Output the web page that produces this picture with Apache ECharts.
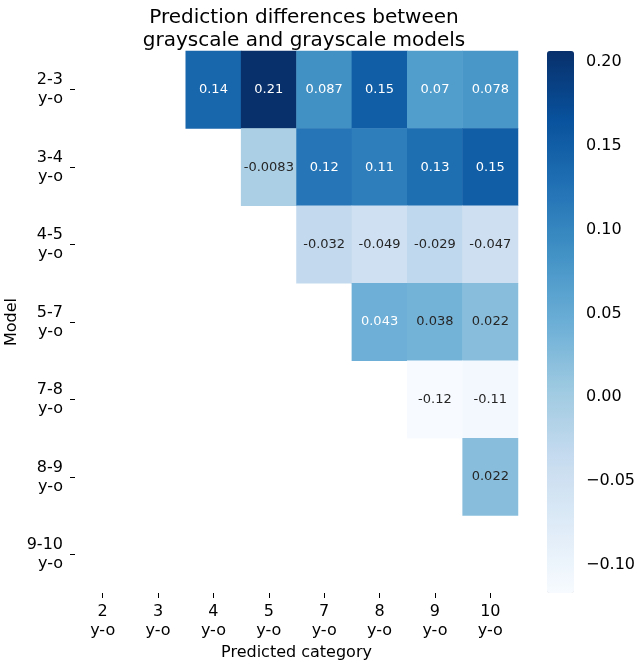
<!DOCTYPE html>
<html>
<head>
<meta charset="utf-8">
<script src="https://cdn.jsdelivr.net/npm/echarts@6/dist/echarts.min.js"></script>
<style>html,body{margin:0;padding:0;background:#fff}#c{width:638px;height:663px}</style>
</head>
<body>
<div id="c"></div>
<script>
var xCategories = ['2\ny-o','3\ny-o','4\ny-o','5\ny-o','7\ny-o','8\ny-o','9\ny-o','10\ny-o'];
var yCategories = ['2-3\ny-o','3-4\ny-o','4-5\ny-o','5-7\ny-o','7-8\ny-o','8-9\ny-o','9-10\ny-o'];
// each row: values for columns, null = empty
var row23  = [null, null, 0.14, 0.21, 0.087, 0.15, 0.07, 0.078];
var row34  = [null, null, null, -0.0083, 0.12, 0.11, 0.13, 0.15];
var row45  = [null, null, null, null, -0.032, -0.049, -0.029, -0.047];
var row57  = [null, null, null, null, null, 0.043, 0.038, 0.022];
var row78  = [null, null, null, null, null, null, -0.12, -0.11];
var row89  = [null, null, null, null, null, null, null, 0.022];
var row910 = [null, null, null, null, null, null, null, null];
var colorMin = -0.1167, colorMax = 0.2064;
var colorbarTicks = [-0.10, -0.05, 0.00, 0.05, 0.10, 0.15, 0.20];

var rows = [row23, row34, row45, row57, row78, row89, row910];
var data = [];
rows.forEach(function(r, yi){
  r.forEach(function(v, xi){
    if (v !== null) {
      data.push({value: [xi, yi, v], label: {color: v >= 0.04 ? '#ffffff' : '#262626'}});
    }
  });
});

var FONT = 'DejaVu Sans';
var chart = echarts.init(document.getElementById('c'));
chart.setOption({
  backgroundColor: '#fff',
  animation: false,
  textStyle: {fontFamily: FONT},
  title: {
    text: 'Prediction differences between\ngrayscale and grayscale models',
    left: 299, textAlign: 'center', top: 1,
    textStyle: {fontFamily: FONT, fontSize: 20, fontWeight: 'normal', color: '#000', lineHeight: 23}
  },
  grid: [
    {left: 75, width: 443, top: 51, height: 542, outerBoundsMode: 'none', containLabel: false},
    {left: 547, width: 27, top: 51, height: 542, outerBoundsMode: 'none', containLabel: false}
  ],
  xAxis: [
    {type: 'category', gridIndex: 0, data: xCategories, position: 'bottom',
     name: 'Predicted category', nameLocation: 'middle', nameGap: 52, nameMoveOverlap: false,
     nameTextStyle: {fontFamily: FONT, fontSize: 16, color: '#000'},
     axisLine: {show: false}, splitLine: {show: false},
     axisTick: {show: true, alignWithLabel: true, length: 5, lineStyle: {color: '#000'}},
     axisLabel: {fontFamily: FONT, fontSize: 16, color: '#000', margin: 9, lineHeight: 19, interval: 0}},
    {type: 'value', gridIndex: 1, show: false, min: 0, max: 1}
  ],
  yAxis: [
    {type: 'category', gridIndex: 0, data: yCategories, inverse: true,
     name: 'Model', nameLocation: 'middle', nameGap: 55, nameRotate: 90, nameMoveOverlap: false,
     nameTextStyle: {fontFamily: FONT, fontSize: 16, color: '#000'},
     axisLine: {show: false}, splitLine: {show: false},
     axisTick: {show: true, alignWithLabel: true, length: 5, lineStyle: {color: '#000'}},
     axisLabel: {fontFamily: FONT, fontSize: 16, color: '#000', margin: 12, lineHeight: 19, interval: 0, align: 'right'}},
    {type: 'value', gridIndex: 1, position: 'right', min: colorMin, max: colorMax,
     axisLine: {show: false}, splitLine: {show: false},
     axisTick: {show: true, length: 5, customValues: colorbarTicks, lineStyle: {color: '#000'}},
     axisLabel: {show: true, customValues: colorbarTicks, fontFamily: FONT, fontSize: 16, color: '#000', margin: 12,
       formatter: function(v){ return (v < 0 ? '\u2212' : '') + Math.abs(v).toFixed(2); }}}
  ],
  visualMap: {
    type: 'continuous', min: colorMin, max: colorMax, calculable: false,
    seriesIndex: 0, orient: 'vertical', left: 547, top: 51,
    itemWidth: 27, itemHeight: 542, padding: 0, text: null, showLabel: false,
    inRange: {color: ['#f7fbff','#deebf7','#c6dbef','#9ecae1','#6baed6','#4292c6','#2171b5','#08519c','#08306b']}
  },
  series: [{
    type: 'heatmap', xAxisIndex: 0, yAxisIndex: 0, data: data,
    label: {show: true, fontFamily: FONT, fontSize: 13,
      formatter: function(p){ return String(p.value[2]); }},
    emphasis: {disabled: true}
  }]
});
</script>
</body>
</html>
